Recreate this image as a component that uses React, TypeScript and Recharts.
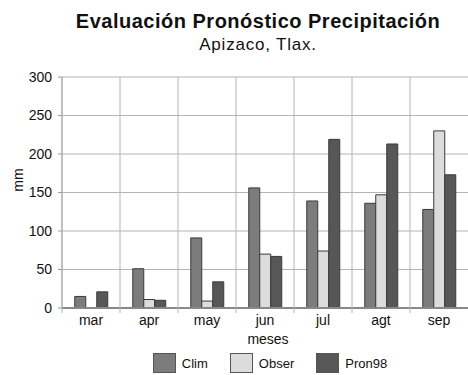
import { BarChart, Bar, XAxis, YAxis, CartesianGrid } from 'recharts';

const months = ['mar', 'apr', 'may', 'jun', 'jul', 'agt', 'sep'];
const clim = [15, 51, 91, 156, 139, 136, 128];
const obser = [0, 11, 9, 70, 74, 147, 230];
const pron98 = [21, 10, 34, 67, 219, 213, 173];
const yTicks = [0, 50, 100, 150, 200, 250, 300];

const seriesInfo = [
  { key: 'clim', name: 'Clim', fill: '#7c7c7c' },
  { key: 'obser', name: 'Obser', fill: '#dcdcdc' },
  { key: 'pron98', name: 'Pron98', fill: '#575757' },
];

const data = months.map((m, i) => ({
  month: m,
  clim: clim[i],
  obser: obser[i],
  pron98: pron98[i],
}));

const FONT = '"Liberation Sans", Arial, sans-serif';
const CHART_W = 468;
const MARGIN = { top: 77, right: 0, left: 0, bottom: 31 };
const Y_AXIS_W = 62;
const STEP = (CHART_W - MARGIN.right - MARGIN.left - Y_AXIS_W) / months.length;

// month label, plus the vertical grid line (with its small tick below the axis)
// at the left edge of each category
const MonthTick = (props: any) => {
  const { x, y, payload } = props;
  const lx = x - STEP / 2;
  return (
    <g>
      <line x1={lx} y1={MARGIN.top} x2={lx} y2={y} stroke="#b4b4b4" />
      <text x={x} y={y + 2} dy="0.71em" textAnchor="middle" fontSize={14} fontFamily={FONT} fill="#111">
        {payload.value}
      </text>
    </g>
  );
};

export default function App() {
  return (
    <div
      style={{
        position: 'absolute',
        left: 0,
        top: 0,
        width: 468,
        height: 375,
        overflow: 'hidden',
        background: '#fff',
        fontFamily: FONT,
        color: '#111',
      }}
    >
      <div
        style={{
          position: 'absolute',
          left: 0,
          top: 10,
          width: 468,
          paddingLeft: 48,
          boxSizing: 'border-box',
          textAlign: 'center',
          fontSize: 20,
          letterSpacing: 0.5,
          fontWeight: 'bold',
          whiteSpace: 'nowrap',
        }}
      >
        Evaluación Pronóstico Precipitación
      </div>
      <div
        style={{
          position: 'absolute',
          left: 0,
          top: 35,
          width: 468,
          paddingLeft: 48,
          boxSizing: 'border-box',
          textAlign: 'center',
          fontSize: 17,
          letterSpacing: 0.8,
          whiteSpace: 'nowrap',
        }}
      >
        Apizaco, Tlax.
      </div>
      <div style={{ position: 'absolute', left: 0, top: 0 }}>
        <BarChart width={CHART_W} height={375} data={data} margin={MARGIN} barGap={0} barCategoryGap="22%">
          <CartesianGrid stroke="#b4b4b4" strokeWidth={1} vertical={false} />
          <XAxis
            dataKey="month"
            height={36}
            tickLine={false}
            tickSize={0}
            tickMargin={5}
            axisLine={{ stroke: '#888', strokeWidth: 2 }}
            tick={<MonthTick />}
            label={{ value: 'meses', position: 'insideBottom', offset: 0, dx: 3, fontSize: 14, fontFamily: FONT, fill: '#111' }}
          />
          <YAxis
            domain={[0, 300]}
            ticks={yTicks}
            width={Y_AXIS_W}
            tickSize={4}
            tickMargin={6}
            axisLine={{ stroke: '#999' }}
            tickLine={{ stroke: '#999' }}
            tick={{ fontSize: 14, fontFamily: FONT, fill: '#111' }}
            label={{
              content: () => (
                <text
                  x={18}
                  y={180}
                  transform="rotate(-90, 18, 180)"
                  textAnchor="middle"
                  dominantBaseline="central"
                  fontSize={14}
                  fontFamily={FONT}
                  fill="#111"
                >
                  mm
                </text>
              ),
            }}
          />
          {seriesInfo.map((s) => (
            <Bar
              key={s.key}
              dataKey={s.key}
              name={s.name}
              fill={s.fill}
              stroke="#3a3a3a"
              strokeWidth={1}
              isAnimationActive={false}
            />
          ))}
        </BarChart>
      </div>
      <div
        style={{
          position: 'absolute',
          left: 0,
          top: 353,
          width: 468,
          paddingLeft: 72,
          boxSizing: 'border-box',
          display: 'flex',
          justifyContent: 'center',
          alignItems: 'center',
          fontSize: 13,
        }}
      >
        {seriesInfo.map((s, i) => (
          <div key={s.key} style={{ display: 'flex', alignItems: 'center', marginLeft: i === 0 ? 0 : 22 }}>
            <div
              style={{
                width: 23,
                height: 20,
                background: s.fill,
                border: '1px solid #555',
                boxSizing: 'border-box',
                marginRight: 6,
              }}
            />
            <span>{s.name}</span>
          </div>
        ))}
      </div>
    </div>
  );
}
